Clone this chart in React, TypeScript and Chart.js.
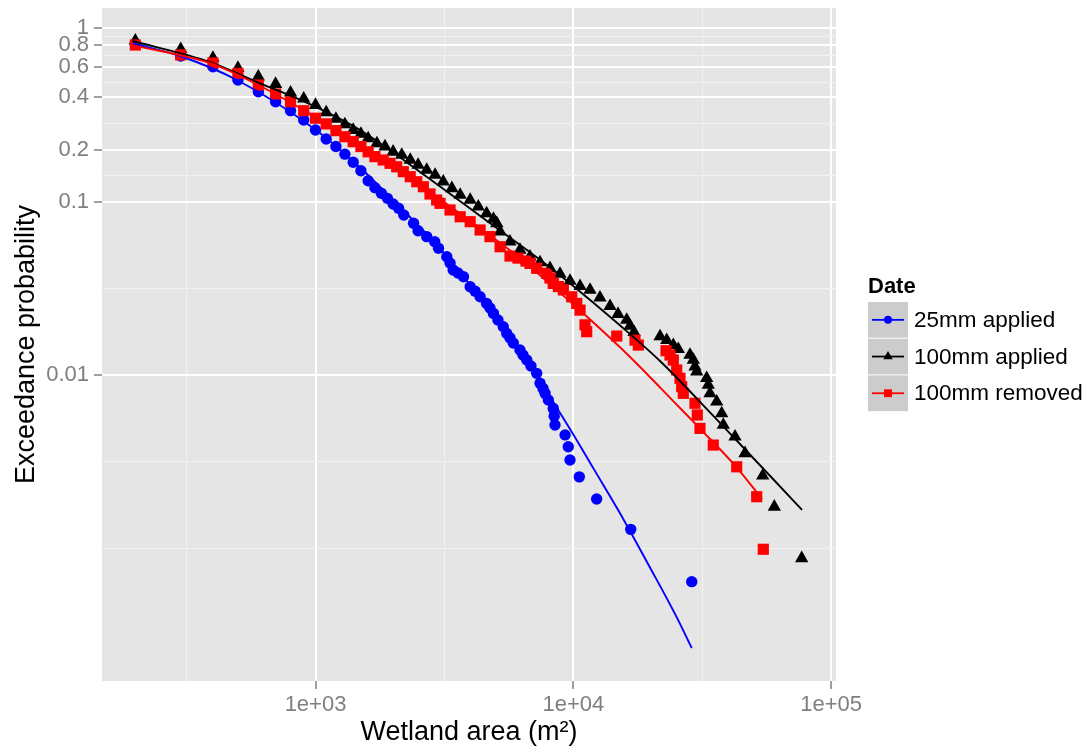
import React, { useEffect, useRef } from 'react';
import { Chart, registerables } from 'chart.js';

Chart.register(...registerables);

// ---------- data ----------
const seriesNames = ['25mm applied', '100mm applied', '100mm removed'];
const seriesColors = ['#0000ff', '#000000', '#ff0000'];

// observed exceedance points [area m², probability]
const applied25Points = [
  [200, 0.812], [300, 0.692], [400, 0.6], [500, 0.503], [600, 0.431], [700, 0.377], [800, 0.335],
  [900, 0.296], [1000, 0.259], [1100, 0.23], [1200, 0.208], [1300, 0.188], [1400, 0.169], [1500, 0.151],
  [1600, 0.132], [1700, 0.1205], [1800, 0.112], [1900, 0.1046], [2000, 0.097], [2100, 0.0916],
  [2200, 0.0838], [2400, 0.0751], [2500, 0.068], [2700, 0.0629], [2900, 0.0588], [3000, 0.0539],
  [3230, 0.0482], [3325, 0.0443], [3420, 0.0404], [3570, 0.0388], [3750, 0.0369], [3980, 0.0323],
  [4160, 0.0305], [4350, 0.0283], [4610, 0.0259], [4750, 0.0244], [4900, 0.0227], [5100, 0.0208],
  [5350, 0.019], [5520, 0.0174], [5680, 0.0164], [5850, 0.0153], [6210, 0.01395], [6380, 0.01306],
  [6600, 0.01222], [6850, 0.01129], [7210, 0.01024], [7430, 0.00897], [7630, 0.00837], [7770, 0.00785],
  [8000, 0.00718], [8360, 0.00643], [8430, 0.0058], [8490, 0.00516], [9290, 0.00452], [9560, 0.00386],
  [9710, 0.00324], [10550, 0.00259], [12320, 0.00193], [16700, 0.00129], [28800, 0.000644],
];

const applied100Points = [
  [200, 0.848], [300, 0.757], [400, 0.674], [500, 0.59], [600, 0.526], [700, 0.477], [800, 0.425],
  [900, 0.393], [1000, 0.361], [1100, 0.327], [1200, 0.3], [1300, 0.279], [1400, 0.259], [1500, 0.2457],
  [1600, 0.232], [1730, 0.217], [1860, 0.208], [2000, 0.194], [2160, 0.186], [2330, 0.174],
  [2500, 0.163], [2700, 0.1524], [2910, 0.1426], [3130, 0.1304], [3380, 0.1195], [3640, 0.1093],
  [3980, 0.1023], [4280, 0.0936], [4610, 0.0857], [4900, 0.0795], [5050, 0.0751], [5200, 0.0673],
  [5680, 0.0589], [6210, 0.0527], [6790, 0.0482], [7430, 0.0446], [8120, 0.0413], [8880, 0.0383],
  [9710, 0.0349], [10620, 0.0326], [11610, 0.031], [12690, 0.028], [13880, 0.025], [14910, 0.0225],
  [16110, 0.0208], [16600, 0.0192], [17200, 0.0177], [21700, 0.0167], [23030, 0.0159], [24430, 0.0149],
  [25550, 0.0141], [28360, 0.01306], [29210, 0.01222], [29650, 0.0112], [30110, 0.01047],
  [32910, 0.00959], [33390, 0.00877], [33900, 0.00785], [35990, 0.00703], [37640, 0.00602],
  [38180, 0.00516], [42390, 0.00441], [46350, 0.00354], [54280, 0.00263], [60220, 0.00174],
  [76900, 0.000878],
];

const removed100Points = [
  [200, 0.801], [300, 0.702], [400, 0.631], [500, 0.55], [600, 0.471], [700, 0.418], [800, 0.377],
  [900, 0.335], [1000, 0.303], [1100, 0.281], [1200, 0.257], [1300, 0.237], [1400, 0.222], [1500, 0.208],
  [1600, 0.194], [1700, 0.182], [1830, 0.174], [1945, 0.1665], [2065, 0.159], [2190, 0.149],
  [2330, 0.1394], [2470, 0.1304], [2620, 0.122], [2780, 0.1108], [2950, 0.1023], [3040, 0.0979],
  [3325, 0.0896], [3640, 0.0819], [3980, 0.0767], [4350, 0.0687], [4750, 0.0629], [5200, 0.055],
  [5680, 0.0486], [6100, 0.0473], [6550, 0.0455], [6790, 0.0441], [7210, 0.0413], [7890, 0.0386],
  [8120, 0.0363], [8360, 0.0338], [8750, 0.0324], [9150, 0.031], [9860, 0.0283], [10310, 0.0259],
  [10620, 0.0237], [11100, 0.0195], [11270, 0.0178], [14740, 0.0168], [17350, 0.0159], [17870, 0.0149],
  [22890, 0.01383], [23720, 0.01306], [24430, 0.01222], [25180, 0.0107], [25930, 0.00959],
  [26330, 0.00858], [26710, 0.00785], [29650, 0.00688], [30270, 0.00589], [31000, 0.00493],
  [34910, 0.00395], [43040, 0.00296], [51450, 0.00199], [54570, 0.00099],
];

// fitted curves [area m², probability]
const applied25Fit = [
  [195, 0.82], [300, 0.69], [500, 0.5], [1000, 0.26], [1500, 0.156], [2000, 0.102], [3000, 0.055],
  [4000, 0.0328], [5000, 0.0213], [7000, 0.0107], [8500, 0.00673], [10000, 0.00455], [12000, 0.00288],
  [15000, 0.001646], [20000, 0.00076], [25000, 0.00041], [28800, 0.000267],
];
const applied100Fit = [
  [195, 0.845], [390, 0.639], [593, 0.49], [951, 0.365], [1488, 0.259], [2543, 0.1484], [4627, 0.0774],
  [7907, 0.0431], [15586, 0.01869], [21696, 0.01206], [35000, 0.0058], [59520, 0.002517],
  [77130, 0.00167],
];
const removed100Fit = [
  [195, 0.8], [400, 0.622], [600, 0.471], [1000, 0.308], [1490, 0.215], [2130, 0.1524], [3040, 0.1036],
  [4350, 0.0705], [6210, 0.0473], [8120, 0.0335], [10900, 0.0228], [16600, 0.01272], [25930, 0.00646],
  [31000, 0.00492], [43150, 0.00292], [53950, 0.00193],
];

// axes
const xMajorTicks = [1000, 10000, 100000];
const xMajorLabels = ['1e+03', '1e+04', '1e+05'];
const xMinorTicks = [316.2, 3162, 31623];
const yMajorTicks = [1, 0.8, 0.6, 0.4, 0.2, 0.1, 0.01];
const yMajorLabels = ['1', '0.8', '0.6', '0.4', '0.2', '0.1', '0.01'];
const yMinorTicks = [0.8944, 0.6928, 0.4899, 0.2828, 0.1414, 0.03162, 0.003162, 0.001];
const xRange = [148.5, 104470];
const yRange = [0.0001722, 1.3095];

const FONT = "'Liberation Sans', Arial, Helvetica, sans-serif";
const pointStyles = ['circle', 'triangle', 'rect'];
const pointRadii = [5.7, 7.7, 7.9];

const toXY = (arr: number[][]) => arr.map(([x, y]) => ({ x, y }));

const panelBg = {
  id: 'panelBg',
  beforeDraw(chart: any) {
    const { ctx, chartArea: a } = chart;
    ctx.save();
    ctx.fillStyle = '#e5e5e5';
    ctx.fillRect(a.left, a.top, a.right - a.left, a.bottom - a.top);
    ctx.restore();
  },
};

function drawMarker(ctx: CanvasRenderingContext2D, style: string, x: number, y: number, r: number) {
  ctx.beginPath();
  if (style === 'circle') {
    ctx.arc(x, y, r, 0, Math.PI * 2);
  } else if (style === 'triangle') {
    ctx.moveTo(x, y - r);
    ctx.lineTo(x + r * 0.866, y + r / 2);
    ctx.lineTo(x - r * 0.866, y + r / 2);
    ctx.closePath();
  } else {
    const s = r * Math.SQRT1_2;
    ctx.rect(x - s, y - s, 2 * s, 2 * s);
  }
  ctx.fill();
}

const ggLegend = {
  id: 'ggLegend',
  afterDraw(chart: any) {
    const ctx = chart.ctx;
    ctx.save();
    const x0 = 868;
    ctx.fillStyle = '#000';
    ctx.font = `bold 22px ${FONT}`;
    ctx.textBaseline = 'middle';
    ctx.textAlign = 'left';
    ctx.fillText('Date', x0, 287);
    const top = 302;
    const h = 36.7;
    seriesNames.forEach((name, i) => {
      const y = top + i * h;
      ctx.fillStyle = '#cccccc';
      ctx.fillRect(x0, y, 40, h - 1);
      const cy = y + (h - 1) / 2;
      ctx.strokeStyle = seriesColors[i];
      ctx.lineWidth = 1.8;
      ctx.beginPath();
      ctx.moveTo(x0 + 4, cy);
      ctx.lineTo(x0 + 36, cy);
      ctx.stroke();
      ctx.fillStyle = seriesColors[i];
      const r = [4, 5.5, 5.6][i];
      drawMarker(ctx, pointStyles[i], x0 + 20, cy, r);
      ctx.fillStyle = '#000';
      ctx.font = `22.5px ${FONT}`;
      ctx.fillText(name, x0 + 46, cy + 1);
    });
    ctx.restore();
  },
};

export default function App() {
  const canvasRef = useRef<HTMLCanvasElement | null>(null);

  useEffect(() => {
    const canvas = canvasRef.current;
    if (!canvas) return;
    const pointSets = [applied25Points, applied100Points, removed100Points];
    const fitSets = [applied25Fit, applied100Fit, removed100Fit];
    const pointOrder = [5, 4, 3];
    const lineOrder = [2, 1, 0];

    const datasets: any[] = [];
    fitSets.forEach((fit, i) => {
      datasets.push({
        label: seriesNames[i] + ' fit',
        data: toXY(fit),
        showLine: true,
        borderColor: seriesColors[i],
        borderWidth: 1.9,
        pointRadius: 0,
        cubicInterpolationMode: 'monotone',
        fill: false,
        order: lineOrder[i],
      });
    });
    pointSets.forEach((pts, i) => {
      datasets.push({
        label: seriesNames[i],
        data: toXY(pts),
        showLine: false,
        pointStyle: pointStyles[i],
        pointRadius: pointRadii[i],
        backgroundColor: seriesColors[i],
        borderWidth: 0,
        order: pointOrder[i],
      });
    });

    const xTicks = [...xMajorTicks, ...xMinorTicks];
    const yTicks = [...yMajorTicks, ...yMinorTicks];

    const chart = new Chart(canvas, {
      type: 'scatter',
      data: { datasets },
      plugins: [panelBg, ggLegend],
      options: {
        animation: false,
        responsive: false,
        devicePixelRatio: 1,
        events: [],
        layout: { padding: { left: 0, top: 8, right: 253, bottom: 0 } },
        plugins: { legend: { display: false }, tooltip: { enabled: false } },
        scales: {
          x: {
            type: 'logarithmic',
            bounds: 'data',
            min: xRange[0],
            max: xRange[1],
            afterBuildTicks: (s: any) => {
              s.ticks = xTicks.map((v) => ({ value: v }));
            },
            afterFit: (s: any) => {
              s.height = 66;
              s.paddingLeft = 0;
              s.paddingRight = 0;
            },
            border: { display: false },
            grid: {
              color: (c: any) => (c.index < xMajorTicks.length ? '#ffffff' : '#f2f2f2'),
              lineWidth: (c: any) => (c.index < xMajorTicks.length ? 2 : 1),
              tickColor: (c: any) => (c.index < xMajorTicks.length ? '#7f7f7f' : 'rgba(0,0,0,0)'),
              tickWidth: 1.5,
              tickLength: 8,
              drawTicks: true,
            },
            ticks: {
              autoSkip: false,
              maxRotation: 0,
              padding: 3,
              color: '#7f7f7f',
              font: { family: FONT, size: 22 },
              callback: (_v: any, i: number) => (i < xMajorLabels.length ? xMajorLabels[i] : ''),
            },
            title: {
              display: true,
              text: 'Wetland area (m²)',
              color: '#000',
              font: { family: FONT, size: 27, lineHeight: 1.1 },
              padding: { top: 0, bottom: 0 },
            },
          },
          y: {
            type: 'logarithmic',
            bounds: 'data',
            min: yRange[0],
            max: yRange[1],
            afterBuildTicks: (s: any) => {
              s.ticks = yTicks.map((v) => ({ value: v }));
            },
            afterFit: (s: any) => {
              s.width = 102;
              s.paddingTop = 0;
              s.paddingBottom = 0;
            },
            border: { display: false },
            grid: {
              color: (c: any) => (c.index < yMajorTicks.length ? '#ffffff' : '#f2f2f2'),
              lineWidth: (c: any) => (c.index < yMajorTicks.length ? 2 : 1),
              tickColor: (c: any) => (c.index < yMajorTicks.length ? '#7f7f7f' : 'rgba(0,0,0,0)'),
              tickWidth: 1.5,
              tickLength: 8,
              drawTicks: true,
            },
            ticks: {
              autoSkip: false,
              padding: 5,
              color: '#7f7f7f',
              font: { family: FONT, size: 22 },
              callback: (_v: any, i: number) => (i < yMajorLabels.length ? yMajorLabels[i] : ''),
            },
            title: {
              display: true,
              text: 'Exceedance probability',
              color: '#000',
              font: { family: FONT, size: 27, lineHeight: 1.1 },
              padding: { top: 12, bottom: 0 },
            },
          },
        },
      },
    } as any);

    return () => chart.destroy();
  }, []);

  return (
    <div style={{ position: 'absolute', left: 0, top: 0, width: 1089, height: 747, background: '#fff' }}>
      <canvas ref={canvasRef} width={1089} height={747} style={{ display: 'block' }} />
    </div>
  );
}
